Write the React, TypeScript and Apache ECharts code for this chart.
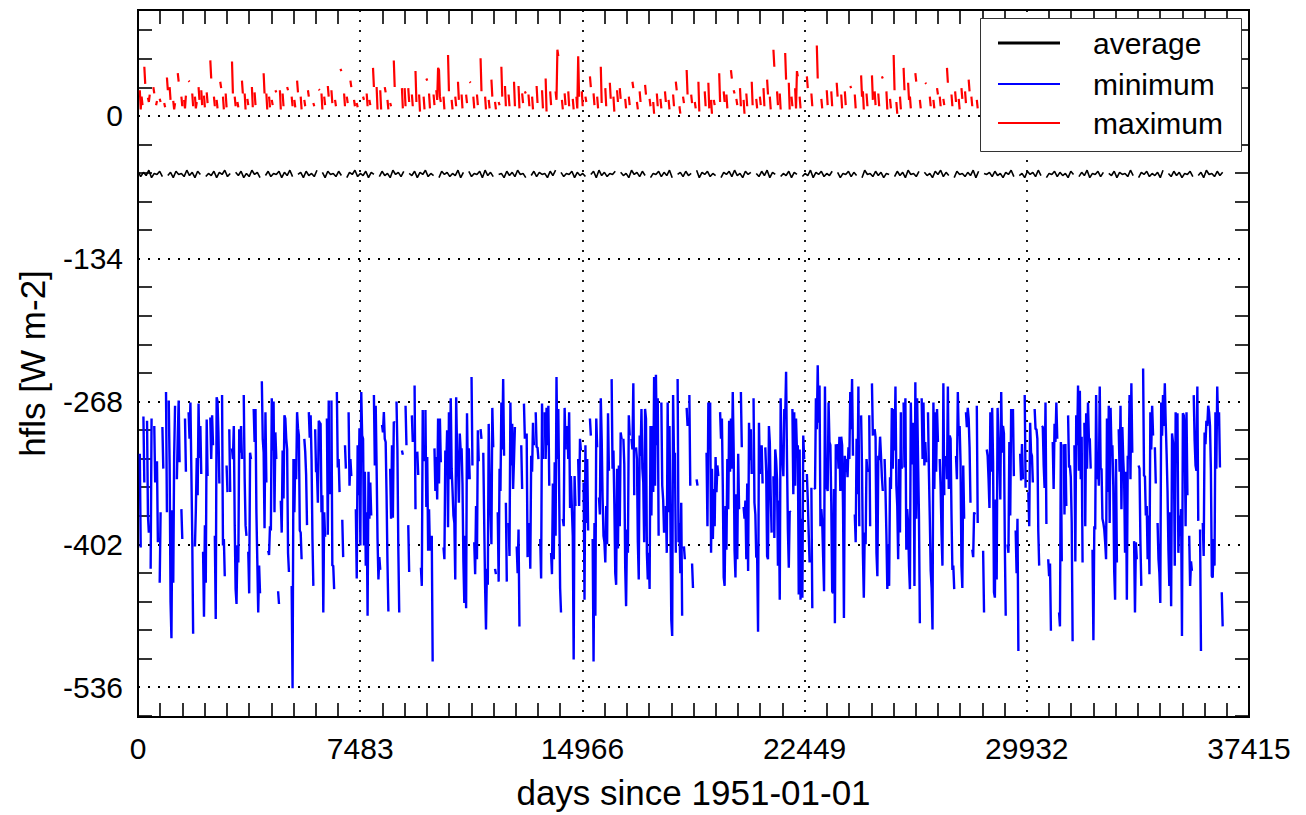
import React, { useEffect, useRef } from "react";
import * as echarts from "echarts";

const FONT = "'Liberation Sans', Arial, Helvetica, sans-serif";
const X_MAX = 37415;
const X_STEP = 7483;
const Y_MIN = -564;
const Y_MAX = 99.3;
const yMajorTicks = [0, -134, -268, -402, -536];
const yMinorTicks = [80.4, 53.6, 26.8, -26.8, -53.6, -80.4, -107.2, -160.8, -187.6, -214.4, -241.2, -294.8, -321.6, -348.4, -375.2, -428.8, -455.6, -482.4, -509.2, -562.8];
const DAYS_PER_MONTH = 30.44;
const N_MONTHS = 1201;
const legendNames = ["average", "minimum", "maximum"];
const seriesColors = ["#000000", "#0000ff", "#ff0000"];
const xTitle = "days since 1951-01-01";
const yTitle = "hfls [W m-2]";

// runs: [start month index, consecutive monthly values...]; months between runs are missing
const minimumRuns: number[][] = [
  [2,-317,-405],[6,-282,-344],[10,-286,-375,-391],[14,-425,-284],[18,-291,-344],[21,-324,-400],[24,-438,-372],[27,-292,-331],[31,-259,-372],[34,-267,-327],
  [36,-456,-490],[38,-370,-438],[40,-319,-272],[43,-341,-300],[45,-267,-325],[48,-369,-397],[52,-284,-334],[56,-278,-303],[58,-269,-331],[60,-394,-486],
  [63,-404,-370],[65,-321,-356],[67,-270,-321],[69,-291,-336],[72,-409,-470],[74,-384,-438],[76,-285,-338],[80,-283,-322],[82,-281,-309],[85,-394,-472],
  [87,-264,-268],[89,-298,-345],[93,-262,-403],[95,-397,-432],[98,-328,-353],[101,-294,-353],[104,-312,-322],[106,-291,-384],[108,-444,-458],[110,-403,-419],
  [112,-294,-316],[114,-291,-322],[117,-262,-340],[119,-384,-394],[122,-409,-448],[124,-316,-322],[128,-275,-306],[130,-275,-372],[132,-418,-466],[134,-422,-448],
  [137,-249,-303],[139,-316,-387],[141,-278,-344],[144,-408,-412],[146,-385,-389],[148,-265,-314],[150,-268,-372],[152,-297,-322],[155,-446,-458],[158,-361,-391],
  [160,-314,-359],[162,-281,-284],[164,-303,-313],[166,-410,-428],[170,-441,-537],[172,-322,-372],[174,-322,-341],[176,-278,-293],[178,-300,-389],[180,-391,-416],
  [184,-303,-315],[186,-337,-384],[189,-278,-302],[191,-281,-322],[193,-397,-441],[196,-294,-334],[198,-334,-363],[200,-286,-288],[202,-289,-372],[204,-356,-466],
  [206,-372,-395],[209,-284,-393],[211,-267,-355],[214,-267,-422],[216,-422,-444],[220,-259,-330],[222,-322,-353],[226,-379,-414],[229,-309,-331],[233,-278,-347],
  [235,-322,-338],[241,-369,-434],[243,-309,-356],[245,-293,-403],[247,-259,-300],[249,-303,-403],[251,-334,-422],[253,-372,-469],[255,-334,-378],[257,-344,-375],
  [261,-262,-328],[263,-272,-331],[265,-397,-435],[267,-414,-426],[270,-290,-297],[272,-278,-303],[274,-306,-356],[276,-419,-465],[279,-331,-378],[281,-309,-377],
  [283,-287,-288],[286,-268,-313],[288,-406,-466],[292,-314,-318],[296,-272,-309],[299,-384,-428],[303,-281,-306],[306,-253,-369],[309,-315,-337],[313,-424,-441],
  [315,-276,-324],[318,-276,-367],[320,-320,-408],[322,-369,-408],[325,-394,-512],[328,-312,-352],[330,-320,-360],[332,-284,-345],[334,-284,-325],[338,-405,-416],
  [340,-314,-330],[342,-295,-386],[344,-278,-341],[346,-265,-331],[348,-352,-375],[350,-382,-435],[352,-264,-313],[354,-328,-363],[356,-298,-314],[358,-312,-345],
  [360,-418,-457],[362,-394,-462],[364,-279,-341],[366,-312,-341],[369,-245,-328],[372,-400,-430],[374,-366,-416],[376,-295,-324],[379,-294,-303],[382,-316,-380],
  [384,-441,-482],[386,-425,-440],[388,-289,-345],[390,-371,-402],[392,-274,-311],[395,-425,-430],[398,-372,-437],[400,-331,-352],[402,-269,-313],[404,-247,-319],
  [407,-363,-437],[410,-382,-413],[412,-269,-328],[414,-289,-350],[416,-322,-292],[419,-404,-429],[421,-388,-479],[424,-309,-350],[427,-270,-303],[430,-298,-414],
  [433,-382,-425],[435,-319,-334],[437,-288,-309],[440,-278,-311],[442,-311,-322],[445,-397,-434],[447,-270,-322],[450,-278,-322],[452,-274,-309],[454,-272,-347],
  [457,-410,-430],[459,-345,-416],[461,-325,-394],[463,-245,-322],[465,-275,-356],[467,-443,-466],[470,-378,-385],[472,-274,-313],[475,-291,-322],[477,-278,-368],
  [479,-338,-368],[481,-394,-510],[483,-338,-366],[487,-322,-366],[489,-303,-314],[493,-344,-454],[495,-309,-382],[497,-322,-389],[500,-284,-300],[503,-397,-512],
  [505,-382,-469],[507,-284,-311],[510,-358,-374],[512,-265,-303],[514,-358,-394],[516,-400,-419],[518,-366,-402],[520,-279,-333],[524,-247,-331],[526,-314,-364],
  [528,-429,-440],[530,-331,-406],[532,-328,-385],[534,-297,-303],[537,-303,-327],[539,-423,-460],[541,-388,-410],[543,-281,-300],[546,-303,-313],[548,-251,-356],
  [551,-311,-322],[553,-400,-435],[555,-300,-319],[557,-275,-331],[559,-344,-400],[561,-275,-284],[563,-410,-435],[565,-410,-444],[567,-291,-375],[569,-291,-353],
  [571,-245,-347],[573,-243,-309],[575,-265,-394],[579,-269,-347],[581,-360,-391],[584,-366,-410],[586,-269,-372],[588,-291,-375],[590,-473,-488],[592,-262,-322],
  [594,-316,-410],[597,-247,-400],[599,-382,-429],[601,-363,-469],[604,-404,-416],[607,-274,-291],[610,-262,-347],[613,-420,-443],[618,-341,-347],[629,-316,-385],
  [631,-269,-298],[633,-269,-410],[635,-331,-397],[637,-350,-385],[639,-320,-353],[641,-328,-338],[644,-278,-303],[646,-284,-349],[648,-433,-441],[650,-366,-407],
  [652,-322,-369],[654,-286,-334],[656,-284,-331],[658,-259,-313],[660,-408,-433],[662,-355,-416],[664,-317,-369],[667,-259,-311],[670,-367,-378],[672,-361,-416],
  [674,-345,-427],[676,-288,-323],[678,-294,-336],[681,-265,-363],[683,-374,-414],[685,-414,-484],[687,-288,-336],[690,-309,-345],[694,-311,-334],[696,-413,-416],
  [698,-291,-306],[700,-356,-391],[703,-338,-396],[705,-313,-323],[707,-341,-422],[709,-361,-454],[711,-265,-322],[713,-322,-338],[715,-275,-283],[717,-240,-322],
  [719,-388,-424],[721,-371,-372],[724,-275,-355],[726,-278,-347],[728,-284,-313],[730,-309,-449],[732,-313,-454],[734,-378,-452],[736,-300,-322],[740,-336,-360],
  [742,-391,-419],[745,-349,-462],[748,-349,-350],[750,-265,-294],[752,-234,-288],[754,-253,-385],[756,-369,-382],[758,-414,-446],[760,-254,-350],[762,-347,-352],
  [764,-269,-306],[766,-309,-364],[768,-446,-448],[770,-350,-476],[772,-308,-322],[774,-308,-331],[776,-301,-352],[778,-301,-309],[780,-367,-471],[782,-319,-334],
  [784,-322,-339],[786,-311,-322],[788,-259,-294],[790,-247,-319],[793,-374,-400],[795,-303,-355],[797,-254,-385],[800,-281,-330],[802,-411,-452],[804,-391,-402],
  [806,-322,-334],[809,-281,-385],[812,-251,-300],[815,-294,-302],[817,-410,-432],[819,-319,-323],[821,-301,-319],[823,-339,-352],[826,-322,-353],[828,-393,-444],
  [830,-402,-441],[832,-339,-350],[834,-274,-331],[836,-275,-314],[838,-254,-347],[840,-366,-416],[842,-322,-391],[844,-278,-331],[847,-269,-330],[849,-265,-407],
  [851,-369,-382],[853,-422,-444],[855,-269,-327],[858,-288,-441],[860,-250,-378],[862,-265,-322],[864,-375,-476],[867,-265,-322],[869,-269,-328],[871,-306,-325],
  [874,-278,-334],[876,-378,-427],[878,-443,-482],[880,-269,-350],[882,-278,-334],[884,-275,-306],[887,-322,-350],[889,-393,-422],[891,-251,-356],[894,-319,-341],
  [896,-254,-350],[898,-300,-303],[900,-374,-426],[902,-422,-444],[905,-319,-341],[907,-259,-300],[909,-291,-325],[911,-422,-443],[913,-328,-378],[916,-278,-292],
  [918,-274,-284],[920,-311,-363],[923,-407,-414],[925,-372,-374],[928,-272,-382],[935,-408,-466],[939,-313,-319],[941,-341,-368],[943,-278,-334],[945,-274,-325],
  [947,-447,-452],[949,-360,-435],[951,-274,-305],[953,-322,-360],[955,-259,-316],[957,-291,-298],[959,-402,-469],[962,-402,-410],[964,-306,-375],[966,-275,-288],
  [968,-275,-338],[971,-389,-429],[973,-378,-502],[976,-317,-342],[978,-308,-341],[981,-262,-349],[985,-353,-385],[987,-288,-316],[989,-319,-344],[992,-275,-294],
  [994,-294,-303],[996,-389,-422],[1000,-291,-292],[1002,-328,-349],[1004,-269,-383],[1007,-416,-432],[1009,-420,-483],[1012,-306,-350],[1014,-289,-306],[1016,-269,-303],
  [1019,-466,-479],[1021,-306,-418],[1024,-308,-374],[1026,-308,-366],[1029,-281,-330],[1031,-328,-339],[1033,-382,-493],[1036,-309,-418],[1038,-281,-309],[1040,-253,-333],
  [1042,-258,-341],[1044,-301,-419],[1047,-288,-385],[1049,-279,-331],[1051,-269,-303],[1053,-303,-331],[1056,-407,-492],[1058,-385,-388],[1060,-262,-341],[1062,-322,-347],
  [1064,-254,-331],[1066,-331,-378],[1068,-382,-388],[1070,-400,-416],[1072,-284,-353],[1074,-272,-382],[1076,-274,-313],[1078,-309,-347],[1080,-427,-454],[1082,-322,-419],
  [1085,-294,-334],[1087,-272,-369],[1089,-292,-322],[1091,-342,-410],[1093,-334,-454],[1095,-319,-322],[1097,-262,-341],[1099,-251,-316],[1102,-399,-466],[1104,-400,-416],
  [1107,-328,-331],[1109,-399,-441],[1112,-237,-338],[1114,-338,-375],[1116,-366,-416],[1118,-375,-430],[1120,-278,-313],[1122,-272,-300],[1125,-311,-345],[1128,-382,-416],
  [1130,-429,-457],[1132,-269,-300],[1134,-262,-291],[1136,-251,-288],[1138,-317,-352],[1140,-407,-441],[1142,-372,-460],[1144,-298,-306],[1146,-313,-422],[1148,-278,-325],
  [1150,-279,-410],[1152,-375,-394],[1154,-369,-488],[1156,-279,-281],[1158,-297,-385],[1160,-278,-356],[1163,-394,-441],[1165,-418,-427],[1168,-262,-305],[1170,-328,-333],
  [1172,-254,-380],[1175,-388,-502],[1178,-382,-413],[1180,-297,-308],[1182,-286,-291],[1184,-272,-278],[1186,-291,-333],[1188,-432,-433],[1190,-397,-422],[1192,-278,-331],
  [1194,-254,-291],[1196,-278,-330],[1199,-447,-479]
];

const maximumRuns: number[][] = [
  [2,24,6,18,10],[7,46,30],[11,17,13,20],[17,27,21],[20,10,14],[24,16,13],[29,12,8],[32,36,24],[35,27,15],[39,14,6,12],
  [44,40,32],[48,18,9],[51,15,7,19],[56,33,32],[60,21,9],[63,18,7,13],[67,27,15],[70,24,10],[73,19,8],[76,22,12],
  [80,52,35],[84,18,9],[87,15,7],[91,32,26],[94,18,6],[97,21,8],[104,51,21],[107,18,9],[110,13,8],[115,33,21],
  [118,21,6],[121,16,10],[126,27,8],[129,22,10],[139,40,21],[142,21,6],[145,18,8],[148,15,10],[152,24,22],[157,24,6],
  [160,21,9],[165,27,24],[170,18,9],[173,15,8],[176,33,22],[180,18,6],[184,15,9],[188,24,18],[194,12,9],[200,25,24],
  [203,21,6],[206,18,10],[210,28,18],[214,24,12],[218,15,9],[224,44,42],[228,21,9],[231,18,12],[235,33,27],[239,15,9],
  [242,12,8],[249,18,15],[253,21,9],[256,15,10],[260,45,27],[264,27,6],[268,24,6],[273,27,22],[276,15,6],[279,12,9],
  [283,52,27],[292,26,7],[295,26,9],[299,26,13],[303,20,9],[307,42,13],[311,20,4],[316,18,6],[319,35,33],[322,21,7],
  [327,20,10],[330,24,15],[332,45,43],[334,18,13],[338,18,6],[343,57,23],[347,15,6],[351,18,9],[354,32,15],[358,20,7],
  [363,20,12],[367,32,31],[371,18,7],[375,20,10],[379,54,23],[384,18,6],[388,15,7],[391,34,18],[395,13,6],[399,13,10],
  [402,46,18],[406,28,9],[410,20,9],[416,32,9],[421,28,7],[425,21,12],[428,23,21],[432,20,9],[436,18,6],[441,28,12],
  [447,24,7],[451,35,4],[456,23,10],[462,23,15],[464,62,56],[469,15,6],[472,21,10],[476,23,9],[481,16,6],[485,18,7],
  [487,56,18],[491,23,9],[495,18,13],[500,37,27],[504,21,10],[508,18,7],[512,46,12],[517,26,9],[522,31,16],[526,18,4],
  [530,24,13],[533,26,16],[539,16,7],[543,18,10],[547,32,26],[552,13,6],[555,23,13],[561,29,20],[566,16,9],[570,13,2],
  [574,21,9],[578,16,7],[583,23,13],[587,15,6],[592,20,9],[595,32,24],[599,9,2],[603,18,12],[607,43,20],[612,20,12],
  [616,13,7],[620,32,4],[627,23,9],[631,31,7],[634,15,2],[637,15,10],[643,40,13],[648,23,13],[651,20,7],[656,43,35],
  [659,24,21],[662,16,10],[666,26,9],[670,15,2],[673,21,9],[679,32,10],[684,16,7],[688,18,10],[692,26,9],[696,34,20],
  [699,18,6],[703,62,46],[707,23,10],[710,21,6],[716,59,34],[720,31,6],[723,18,9],[727,26,7],[729,42,37],[732,18,7],
  [740,37,26],[745,21,9],[751,66,35],[756,16,7],[762,24,10],[767,23,9],[773,31,18],[778,20,7],[782,23,10],[788,28,26],
  [793,20,7],[800,38,18],[802,23,6],[806,21,9],[812,38,15],[815,23,10],[819,21,9],[823,37,35],[828,23,6],[832,16,7],
  [836,57,24],[839,13,2],[843,18,6],[847,45,24],[852,31,15],[854,18,7],[860,40,32],[865,15,7],[871,31,30],[876,18,9],
  [880,15,7],[884,26,20],[887,18,9],[891,16,10],[895,45,31],[900,20,9],[904,23,13],[908,16,6],[911,26,16],[915,23,12],
  [919,34,23],[922,18,9],[928,15,7]
];

// one value every 3 months (null = missing)
const averageQuarterly: (number | null)[] = [
  -52,-57,-53,-56,-51,-58,-54,-55,-52,-57,null,-56,-53,-58,-52,-55,-54,-57,-51,-56,
  -53,-58,-52,-55,null,-57,-54,-56,-52,-58,-53,-55,-51,-57,-54,null,-53,-56,-52,-58,
  -54,-57,-51,-55,-53,-58,null,-56,-52,-57,-54,-55,-52,-58,-53,-56,-51,-57,null,-55,
  -53,-58,-52,-56,-54,-57,-51,null,-53,-58,-52,-55,-54,-57,-52,-56,null,-58,-53,-55,
  -51,-57,-54,-56,-52,-58,-53,-55,null,-57,-52,-56,-54,-58,-51,-55,-53,-57,-52,null,
  -54,-56,-52,-58,-53,-55,-51,-57,-54,-56,null,-58,-52,-55,-53,-57,-54,-56,-51,-58,
  -53,null,-52,-57,-54,-55,-52,-58,-51,-56,-53,-57,null,-55,-54,-58,-52,-56,-53,-57,
  -51,-55,-54,-58,null,-56,-52,-57,-53,-55,-54,-58,-52,-56,-51,null,-53,-57,-54,-55,
  -52,-58,-53,-56,-54,-57,null,-55,-52,-58,-51,-56,-53,-57,-54,-55,-52,null,-53,-56,
  -54,-58,-51,-55,-53,-57,-52,-56,null,-58,-54,-55,-52,-57,-53,-56,-51,-58,null,-55,
  -53,-57,-52,-56,-54,null,-51,-58,-53,-55,-52,-57,-54,-56,null,-58,-53,-55,-52,-57,
  -51,-56,-54,-58,-52,-55,-53,null,-54,-57,-52,-56,-51,-58,-53,-55,null,-57,-54,-56,
  -52,-58,-53,-55,null,-57,-54,-56,-51,-58,-53,-55,-52,-57,-54,-56,-52,null,-53,-58,
  -54,-55,-52,-57,-53,-56,null,-58,-51,-55,-54,-57,-52,-56,-53,-58,-54,-55,null,-57,
  -52,-56,-53,-58,-51,-55,-54,-57,-52,null,-53,-56,-54,-58,-52,-55,-51,-57,-53,-56,
  null,-58,-52,-55,-54,-57,-53,-56,-51,-58,-52,null,-54,-55,-53,-57,-52,-56,-54,-58,
  -53,-55,-51,-57,null,-56,-54,-58,-52,-55,-53,-57,-51,-56,null,-58,-54,-55,-52,-57,
  -53,-56,-54,-58,-52,-55,null,-57,-53,-56,-51,-58,-54,-55,-52,-57,-53,null,-54,-56,
  -52,-58,-53,-55,-54,-57,-51,-56,null,-58,-53,-55,-52,-57,-54,-56,-53,-58,-51,null,
  -54,-57,-52,-56,-53,-58,-54,-55,-52,-57,null,-56,-53,-58,-51,-55,-54,-57,-52,-56,
  -53
];

function runsToData(runs: number[][]) {
  const vals: (number | null)[] = new Array(N_MONTHS).fill(null);
  runs.forEach((r) => {
    for (let i = 1; i < r.length; i++) vals[r[0] + i - 1] = r[i];
  });
  return vals.map((v, m) => [m * DAYS_PER_MONTH, v === null ? "-" : v]);
}

function quarterlyToData(vals: (number | null)[]) {
  return vals.map((v, k) => [k * 3 * DAYS_PER_MONTH, v === null ? "-" : v]);
}

export default function App() {
  const ref = useRef<HTMLDivElement>(null);
  useEffect(() => {
    document.body.style.margin = "0";
    if (!ref.current) return;
    const chart = echarts.init(ref.current, undefined, { renderer: "svg" });
    const dotted = { color: "#000", width: 1.8, type: [2, 8] as any };
    const tickLine = { color: "#000", width: 1.6 };
    const legendY = [43, 84, 123];
    const legendWidths = [3.2, 2, 2];
    const graphic: any[] = [
      { type: "rect", z: 100, shape: { x: 980.5, y: 18.5, width: 261, height: 133 }, style: { fill: "#fff", stroke: "#333", lineWidth: 1 } },
    ];
    legendNames.forEach((name, i) => {
      graphic.push({ type: "line", z: 101, shape: { x1: 998, y1: legendY[i], x2: 1060, y2: legendY[i] }, style: { stroke: seriesColors[i], lineWidth: legendWidths[i] } });
      graphic.push({ type: "text", z: 101, x: 1093, y: legendY[i], style: { text: name, fontSize: 30, fontFamily: FONT, fill: "#000", verticalAlign: "middle", align: "left" } });
    });
    const plainNumber = (v: number) => String(v);
    chart.setOption({
      animation: false,
      backgroundColor: "#fff",
      textStyle: { fontFamily: FONT },
      grid: { left: 138, top: 10, right: 57, bottom: 97, show: true, borderColor: "#000", borderWidth: 2, backgroundColor: "transparent" },
      xAxis: [
        {
          type: "value", position: "bottom", min: 0, max: X_MAX, interval: X_STEP,
          axisLine: { show: false, onZero: false },
          axisTick: { show: false, inside: true },
          minorTick: { show: true, splitNumber: 10, length: 14, lineStyle: tickLine },
          axisLabel: { fontSize: 30, color: "#000", margin: 16, fontFamily: FONT, showMinLabel: true, showMaxLabel: true, formatter: plainNumber },
          splitLine: { show: true, lineStyle: dotted },
          name: xTitle, nameLocation: "middle", nameGap: 58,
          nameTextStyle: { fontSize: 35, color: "#000", fontFamily: FONT },
        },
        {
          type: "value", position: "top", min: 0, max: X_MAX, interval: X_STEP,
          axisLine: { show: false, onZero: false },
          axisTick: { show: false, inside: true },
          minorTick: { show: true, splitNumber: 10, length: 14, lineStyle: tickLine },
          axisLabel: { show: false },
          splitLine: { show: false },
        },
      ],
      yAxis: [
        {
          type: "value", position: "left", min: Y_MIN, max: Y_MAX,
          axisLine: { show: false, onZero: false },
          axisTick: { show: false, customValues: yMajorTicks },
          axisLabel: { customValues: yMajorTicks, fontSize: 30, color: "#000", margin: 15, fontFamily: FONT, formatter: plainNumber },
          splitLine: { show: true, lineStyle: dotted },
          name: yTitle, nameLocation: "middle", nameGap: 88,
          nameTextStyle: { fontSize: 35, color: "#000", fontFamily: FONT },
        },
        {
          type: "value", position: "left", min: Y_MIN, max: Y_MAX,
          axisLine: { show: false, onZero: false },
          axisTick: { show: true, inside: true, length: 14, customValues: yMinorTicks, lineStyle: tickLine },
          axisLabel: { show: false },
          splitLine: { show: false },
        },
        {
          type: "value", position: "right", min: Y_MIN, max: Y_MAX,
          axisLine: { show: false, onZero: false },
          axisTick: { show: true, inside: true, length: 14, customValues: yMinorTicks, lineStyle: tickLine },
          axisLabel: { show: false },
          splitLine: { show: false },
        },
      ],
      series: [
        { name: legendNames[0], type: "line", xAxisIndex: 0, yAxisIndex: 0, data: quarterlyToData(averageQuarterly), symbol: "none", showSymbol: false, connectNulls: false, silent: true, lineStyle: { color: seriesColors[0], width: 1.6 }, itemStyle: { color: seriesColors[0] } },
        { name: legendNames[1], type: "line", xAxisIndex: 0, yAxisIndex: 0, data: runsToData(minimumRuns), symbol: "none", showSymbol: false, connectNulls: false, silent: true, lineStyle: { color: seriesColors[1], width: 2.4 }, itemStyle: { color: seriesColors[1] } },
        { name: legendNames[2], type: "line", xAxisIndex: 0, yAxisIndex: 0, data: runsToData(maximumRuns), symbol: "none", showSymbol: false, connectNulls: false, silent: true, lineStyle: { color: seriesColors[2], width: 2.2 }, itemStyle: { color: seriesColors[2] } },
      ],
      graphic,
    });
    return () => chart.dispose();
  }, []);
  return <div ref={ref} style={{ width: 1306, height: 815 }} />;
}
